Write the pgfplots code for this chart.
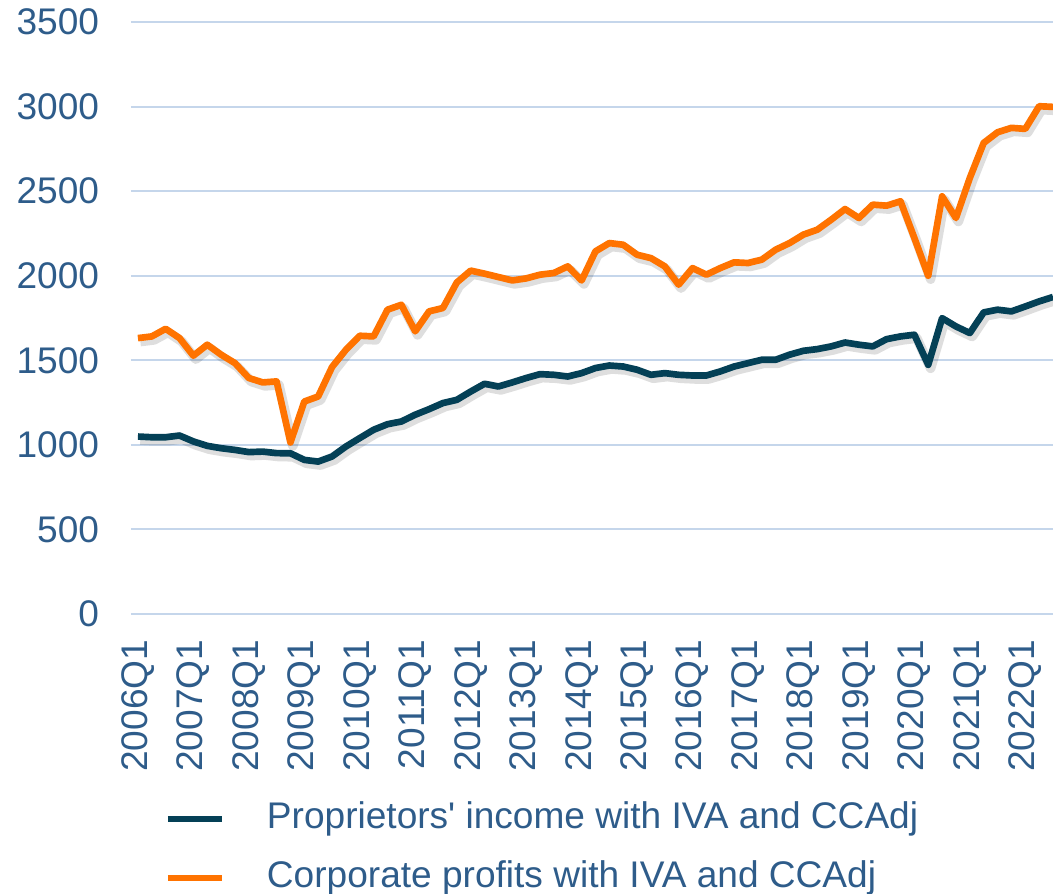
\documentclass[border=0pt]{standalone}
\usepackage{pgfplots}
\usepackage{pgfplotstable}
\pgfplotsset{compat=1.18}
\usepackage{fontspec}
\setmainfont{Liberation Sans}
\definecolor{txtblue}{RGB}{46,92,138}
\definecolor{gridblue}{RGB}{197,214,235}
\definecolor{corporange}{RGB}{255,115,0}
\definecolor{propdark}{RGB}{4,64,86}
\pgfplotstableread{
i prop corp
0 1049 1631
1 1045 1641
2 1045 1686
3 1055 1631
4 1020 1527
5 994 1592
6 980 1533
7 970 1483
8 957 1395
9 960 1369
10 951 1375
11 950 1014
12 911 1256
13 901 1286
14 931 1460
15 990 1562
16 1040 1645
17 1089 1641
18 1122 1799
19 1138 1828
20 1178 1671
21 1211 1789
22 1247 1809
23 1266 1960
24 1315 2030
25 1361 2012
26 1345 1992
27 1369 1972
28 1395 1984
29 1418 2006
30 1414 2016
31 1404 2055
32 1424 1972
33 1454 2144
34 1469 2193
35 1463 2183
36 1444 2124
37 1414 2104
38 1424 2055
39 1414 1947
40 1410 2045
41 1410 2006
42 1434 2045
43 1463 2079
44 1483 2075
45 1503 2095
46 1503 2154
47 1533 2193
48 1556 2243
49 1566 2272
50 1582 2331
51 1605 2394
52 1592 2341
53 1582 2420
54 1625 2414
55 1641 2440
56 1651 2223
57 1473 2000
58 1749 2469
59 1700 2341
60 1661 2578
61 1783 2785
62 1799 2848
63 1789 2874
64 1818 2868
65 1848 3002
66 1874 2998
}\datatable
\begin{document}
\begin{tikzpicture}
\begin{axis}[
  name=ax,
  scale only axis,
  width=345.75pt, height=222pt,
  xmin=-0.5, xmax=66,
  ymin=0, ymax=3500,
  ytick={0,500,...,3500},
  xtick={0,4,...,64},
  xticklabels={2006Q1,2007Q1,2008Q1,2009Q1,2010Q1,2011Q1,2012Q1,2013Q1,2014Q1,2015Q1,2016Q1,2017Q1,2018Q1,2019Q1,2020Q1,2021Q1,2022Q1},
  axis line style={draw=none},
  tick style={draw=none},
  ymajorgrids,
  grid style={gridblue, line width=0.75pt},
  /pgf/number format/assume math mode=true,
  /pgf/number format/1000 sep={},
  ticklabel style={font=\fontsize{13.9}{16}\selectfont, text=txtblue},
  yticklabel style={anchor=east, inner xsep=11.8pt},
  xticklabel style={rotate=90, anchor=east, inner xsep=9.5pt},
  legend style={draw=none, fill=none, at={(0.0357,-0.316)}, anchor=north west,
    inner sep=0pt, row sep=9.1pt,
    nodes={inner sep=0pt, text height=10pt, text depth=3pt, font=\fontsize{13.9}{16}\selectfont, text=txtblue}},
  legend cell align=left,
  legend image code/.code={\draw[#1, line width=2.5pt] (0pt,0pt) -- (20.25pt,0pt); \path[draw=none] (0pt,0pt) -- (37.2pt,0pt);},
]
\addplot[forget plot, black, opacity=0.13, line width=3.6pt, line join=round, xshift=0.9pt, yshift=-1.3pt] table[x=i, y=prop] {\datatable};
\addplot[forget plot, black, opacity=0.13, line width=3.6pt, line join=round, xshift=0.9pt, yshift=-1.3pt] table[x=i, y=corp] {\datatable};
\addplot[propdark, line width=2.5pt, line join=round] table[x=i, y=prop] {\datatable};
\addlegendentry{Proprietors\textquotesingle{} income with IVA and CCAdj}
\addplot[corporange, line width=2.5pt, line join=round] table[x=i, y=corp] {\datatable};
\addlegendentry{Corporate profits with IVA and CCAdj}
\end{axis}
\pgfresetboundingbox
\path[use as bounding box] ([xshift=-49.125pt,yshift=-105pt]ax.south west) rectangle ([yshift=8.25pt]ax.north east);
\end{tikzpicture}
\end{document}
